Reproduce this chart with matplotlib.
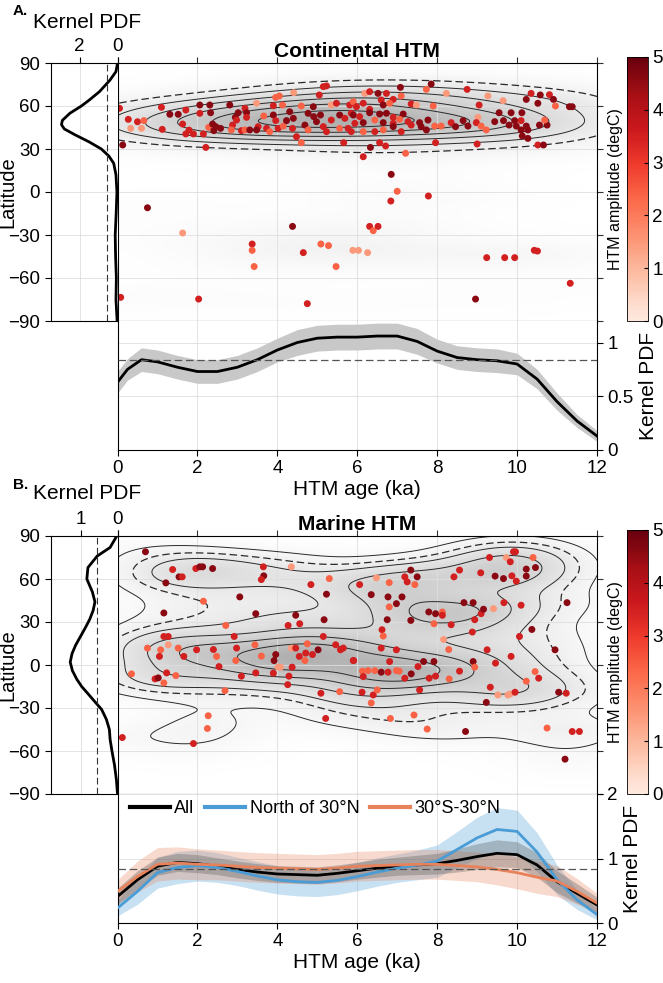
import numpy as np
import matplotlib.pyplot as plt
from matplotlib.colors import LinearSegmentedColormap, Normalize
import matplotlib as mpl

plt.rcParams['font.family'] = ['Liberation Sans', 'DejaVu Sans']
plt.rcParams['axes.linewidth'] = 0.8
plt.rcParams['xtick.direction'] = 'out'
plt.rcParams['ytick.direction'] = 'out'

# ---------------- data: panel A (continental) ----------------
age_a = [0.05, 0.27, 0.33, 0.5, 0.6, 0.66, 0.13, 1.1, 1.12, 1.31,
         1.52, 1.63, 1.71, 1.79, 1.71, 1.9, 2.06, 2.06, 2.15, 2.21,
         2.31, 2.33, 2.28, 2.38, 2.46, 2.41, 2.58, 2.81, 2.88, 2.85,
         2.95, 3.02, 2.98, 3.1, 3.19, 3.23, 3.23, 3.19, 3.31, 3.48,
         3.52, 3.48, 3.66, 3.73, 3.81, 3.9, 3.96, 4.05, 3.9, 3.96,
         4.02, 4.13, 4.15, 4.23, 4.31, 4.41, 4.4, 4.38, 4.48, 4.6,
         4.6, 4.69, 4.77, 4.77, 4.9, 4.91, 4.98, 5.05, 5.15, 5.23,
         5.08, 5.15, 5.23, 5.35, 5.35, 5.48, 5.56, 5.56, 5.69, 5.66,
         5.77, 5.81, 5.85,
         5.9, 6.19, 6.31, 6.52, 6.73, 7.08, 7.85, 7.73, 8.23, 8.75,
         9.27, 9.65, 10.35, 10.58, 10.81, 10.91, 10.96, 11.31, 11.38, 10.23,
         10.52, 6.15, 6.6, 6.9, 5.98, 6.31, 6.65, 6.81, 7.1, 7.35,
         7.48, 7.9, 9.05, 5.9, 6.06, 6.31, 6.56, 6.73, 6.9, 7.15,
         5.94, 6.15, 6.44, 6.65, 6.9, 7.06, 7.27, 7.56, 7.77, 5.85,
         6.15, 6.44, 6.65, 6.9, 7.1, 7.35, 7.6, 7.73, 7.94, 8.1,
         8.35, 8.46, 8.65, 8.77, 9.02, 8.98, 9.1, 9.23, 9.55, 9.85,
         10.12, 9.44, 9.66, 9.94, 10.1, 9.8, 9.98, 10.23, 10.1, 10.27,
         10.13, 10.27, 10.56, 10.75, 10.69, 10.52, 10.66, 6.56, 6.71, 7.21,
         7.96, 9.0, 6.33, 6.15, 6.85,
         0.75, 1.63, 0.08, 2.03, 3.37, 3.37, 3.42, 4.38, 4.65, 4.75,
         5.09, 5.28, 5.47, 5.89, 6.03, 6.26, 6.31, 6.4, 6.52, 6.84,
         7.0, 7.78, 8.96, 9.24, 9.69, 9.94, 10.43, 10.51, 11.33]
lat_a = [58.4, 50.7, 44.4, 49.0, 44.4, 49.8, 32.8, 59.1, 43.7, 54.2,
         54.2, 47.4, 57.2, 43.2, 40.5, 40.5, 60.7, 54.9, 40.5, 31.1,
         60.7, 55.3, 45.1, 47.4, 45.6, 42.8, 44.4, 60.7, 46.7, 43.3,
         52.1, 55.3, 50.2, 42.8, 58.4, 55.3, 52.1, 43.3, 43.3, 61.9,
         45.6, 43.3, 53.0, 44.4, 42.1, 60.2, 66.0, 67.0, 53.7, 49.8,
         44.4, 60.7, 46.0, 49.8, 56.0, 69.3, 51.4, 44.4, 38.6, 60.0,
         34.4, 46.7, 54.9, 43.3, 59.5, 52.6, 49.1, 67.7, 73.5, 74.0,
         53.7, 45.6, 42.1, 60.7, 50.2, 61.9, 53.7, 44.4, 51.4, 34.4,
         44.4, 60.7, 54.9,
         63.0, 68.8, 70.0, 68.8, 68.8, 73.0, 75.3, 71.6, 68.8, 71.6,
         67.0, 63.7, 68.8, 67.7, 67.9, 64.6, 60.0, 59.5, 59.5, 64.6,
         61.9, 61.9, 64.2, 64.6, 59.5, 57.7, 60.7, 61.9, 67.0, 61.4,
         60.7, 60.0, 60.7, 53.7, 52.6, 55.3, 54.4, 54.9, 52.1, 54.4,
         47.9, 48.4, 50.2, 48.4, 47.9, 50.7, 49.1, 48.4, 50.2, 42.1,
         42.1, 42.1, 43.3, 45.6, 42.1, 46.7, 45.6, 43.3, 46.0, 46.0,
         48.4, 45.6, 49.8, 46.0, 52.1, 48.4, 46.0, 43.3, 55.3, 55.3,
         55.3, 49.1, 49.8, 49.8, 49.8, 46.7, 46.0, 46.0, 43.3, 43.3,
         39.1, 37.4, 46.7, 46.7, 50.2, 32.8, 32.8, 34.4, 32.1, 27.0,
         34.4, 33.5, 31.1, 24.6, 12.3,
         -11.0, -28.6, -73.5, -74.7, -36.3, -40.7, -52.0, -24.0, -42.3, -77.9,
         -36.3, -37.4, -52.0, -40.7, -40.7, -42.3, -24.0, -27.0, -24.0, -6.3,
         0.5, -2.8, -74.7, -45.8, -45.8, -45.8, -40.7, -41.2, -63.7]
amp_a = [3.5, 3.5, 1.5, 3.5, 1.5, 2.4, 4.6, 3.5, 3.5, 4.6,
         4.6, 3.5, 3.5, 3.5, 3.5, 3.5, 4.6, 3.5, 3.5, 3.5,
         4.6, 4.6, 2.4, 4.6, 4.6, 4.6, 4.6, 4.6, 3.5, 2.4,
         4.6, 4.6, 3.5, 3.5, 3.5, 4.6, 3.5, 2.4, 4.6, 1.5,
         3.5, 4.6, 2.4, 3.5, 2.4, 3.5, 2.4, 2.4, 4.6, 3.5,
         3.5, 2.4, 2.4, 4.6, 4.6, 1.5, 4.6, 3.5, 3.5, 2.4,
         2.4, 4.6, 4.6, 2.4, 4.6, 4.6, 4.6, 3.5, 3.5, 3.5,
         4.6, 3.5, 3.5, 1.5, 3.5, 3.5, 4.6, 2.4, 3.5, 3.5,
         3.5, 3.5, 3.5,
         2.4, 1.5, 3.5, 4.6, 3.5, 4.6, 4.6, 2.4, 1.5, 3.5,
         1.5, 1.5, 3.5, 4.6, 3.5, 4.6, 2.4, 4.6, 4.6, 4.6,
         4.6, 3.5, 3.5, 3.5, 3.5, 3.5, 4.6, 2.4, 2.4, 3.5,
         1.5, 2.4, 3.5, 4.6, 3.5, 4.6, 4.6, 4.6, 3.5, 4.6,
         3.5, 4.6, 2.4, 4.6, 3.5, 2.4, 3.5, 4.6, 4.6, 3.5,
         2.4, 3.5, 2.4, 4.6, 3.5, 3.5, 4.6, 4.6, 2.4, 2.4,
         3.5, 4.6, 4.6, 4.6, 1.5, 3.5, 2.4, 2.4, 4.6, 4.6,
         4.6, 4.6, 4.6, 4.6, 3.5, 4.6, 4.6, 4.6, 4.6, 4.6,
         4.6, 4.6, 4.6, 4.6, 2.4, 3.5, 4.6, 3.5, 3.5, 2.4,
         3.5, 3.5, 4.6, 3.5, 4.6,
         4.6, 1.5, 3.5, 3.5, 3.5, 2.4, 2.4, 4.6, 3.5, 3.5,
         2.4, 2.4, 2.4, 1.5, 1.5, 1.5, 3.5, 2.4, 3.5, 3.5,
         2.4, 3.5, 4.6, 3.5, 3.5, 3.5, 3.5, 3.5, 3.5]

# latitude PDF (side panel A), %/deg
side_lat_a = [90, 84, 78, 70, 64, 60, 55, 50, 47, 44, 40, 35, 30, 25, 20, 12,
              0, -15, -30, -45, -60, -75, -90]
side_pdf_a = [0.0, 0.08, 0.4, 0.95, 1.5, 1.9, 2.5, 2.9, 2.95, 2.8, 2.25, 1.5,
              0.85, 0.45, 0.2, 0.08, 0.03, 0.07, 0.12, 0.1, 0.06, 0.08, 0.02]

# age PDF (bottom panel A), %/ka
pdf_age_a = [0, 0.25, 0.6, 1.0, 1.5, 2.0, 2.5, 3.0, 3.5, 4.0, 4.5, 5.0, 5.5,
             6.0, 6.5, 7.0, 7.5, 8.0, 8.5, 9.0, 9.5, 10.0, 10.5, 11.0, 11.5, 12.0]
pdf_a = [0.63, 0.75, 0.84, 0.82, 0.77, 0.73, 0.73, 0.77, 0.84, 0.93, 1.0, 1.04,
         1.05, 1.05, 1.06, 1.06, 1.01, 0.92, 0.86, 0.84, 0.83, 0.80, 0.66, 0.45,
         0.27, 0.13]
pdf_a_err = [0.10, 0.10, 0.11, 0.11, 0.11, 0.11, 0.11, 0.11, 0.11, 0.11, 0.12,
             0.12, 0.12, 0.12, 0.12, 0.12, 0.12, 0.11, 0.11, 0.11, 0.11, 0.1,
             0.09, 0.08, 0.06, 0.05]

# ---------------- data: panel B (marine) ----------------
age_b = [0.70, 1.38, 1.54, 1.62, 1.21, 1.96, 2.06, 2.13, 2.38, 2.15,
         3.06, 3.65, 3.66, 3.6, 4.35, 4.84, 5.3, 5.23, 1.16, 2.71,
         3.46, 2.92, 4.46, 4.56, 4.27, 5.17, 5.15, 1.16, 1.27, 0.75,
         1.08, 1.27, 1.52, 1.05, 1.66, 1.98, 2.4, 2.48, 2.98, 2.96,
         2.54, 3.44, 3.6, 3.96, 3.92, 4.02, 4.08, 4.37, 4.35, 4.46,
         4.55, 4.69, 4.71, 4.75, 4.88, 5.02, 5.46, 5.58, 5.65, 5.9,
         0.35, 0.94, 1.02, 1.16, 1.23, 1.46, 3.1, 3.46, 3.9, 4.29,
         4.26, 2.69, 5.09, 5.56, 5.21, 2.27, 2.25, 1.9, 0.12,
         6.06, 6.48, 6.35, 6.8, 6.77, 6.98, 7.12, 6.8, 7.19, 7.25,
         7.34, 7.5, 7.44, 6.75, 7.34, 6.62, 6.65, 6.6, 6.98, 5.91,
         6.81, 6.13, 6.27, 6.44, 6.6, 6.77, 6.98, 7.05, 7.19, 7.35,
         7.52, 7.66, 7.92, 7.8, 7.96, 8.3, 8.56, 6.15, 6.12, 6.4,
         6.5, 6.35, 7.56, 8.29, 8.16, 7.92, 8.35, 7.79, 7.96, 8.13,
         8.13, 8.42, 8.56, 8.67, 8.9, 9.1, 9.16, 8.94, 8.88, 8.9,
         8.94, 9.25, 9.46, 9.85, 9.33, 9.52, 9.77, 9.83, 9.95, 9.23,
         9.09, 9.31, 9.73, 9.91, 9.96, 9.83, 10.4, 9.45, 9.66, 9.87,
         9.98, 10.23, 10.23, 10.46, 9.67, 10.1, 9.41, 10.37, 10.06, 10.95,
         11.25, 10.45, 10.54, 10.23, 11.04, 11.23, 6.83, 7.42, 7.75, 8.71,
         10.75, 11.38, 11.56, 11.2]
lat_b = [79.0, 66.6, 61.5, 61.5, 57.3, 67.3, 68.5, 68.5, 67.3, 44.5,
         47.5, 68.5, 62.2, 59.6, 68.5, 56.1, 60.3, 49.4, 36.3, 27.6,
         35.8, 19.9, 34.7, 28.8, 27.6, 31.6, 19.9, 19.9, 19.9, 11.8,
         10.6, 14.1, 11.8, 6.0, 6.0, 10.6, 10.8, 6.0, 11.8, 3.1,
         -1.1, 14.1, 6.2, 7.3, 3.1, -1.5, -1.5, -1.5, 11.8, 11.8,
         6.0, 3.1, 8.3, 14.8, 7.3, 10.6, 14.1, 10.6, 11.8, 3.1,
         -6.2, -9.7, -9.0, -12.5, -5.5, -7.4, -7.8, -5.5, -5.7, -7.8,
         -13.7, -17.9, -19.7, -18.6, -37.3, -35.4, -44.3, -54.8, -50.6,
         56.1, 60.8, 49.1, 57.5, 47.5, 42.8, 47.5, 40.5, 61.5, 58.0,
         66.2, 61.5, 56.1, 31.6, 31.1, 24.6, 20.2, 11.8, 10.6, 3.1,
         2.4, -4.3, -3.9, -3.9, -5.0, -5.0, -3.9, -4.3, -9.2, -6.2,
         -1.1, 2.4, 2.4, -9.2, -7.8, -9.7, -4.3, -8.1, -19.0, -20.9,
         -17.4, -26.5, -17.4, 10.8, 17.8, 28.8, 28.1, 37.0, 35.8, 37.0,
         34.7, 61.5, 66.2, 43.5, 43.5, 35.8, 38.9, 31.6, 23.0, 2.4,
         -1.5, 10.6, 1.3, 6.0, -15.5, -20.9, -20.9, -20.2, -19.0, -26.1,
         64.3, 75.0, 75.0, 79.0, 79.0, 72.0, 75.0, 62.0, 60.3, 62.2,
         58.5, 66.9, 62.0, 68.0, 43.5, 41.7, 39.3, 24.8, 19.9, 10.6,
         43.5, -4.6, -9.2, -11.3, -19.0, -19.7, -37.3, -34.9, -44.7, -46.4,
         -44.0, -46.4, -46.4, -65.7]
amp_b = [4.6, 3.5, 4.6, 3.5, 4.6, 3.5, 4.6, 4.6, 4.6, 2.4,
         4.6, 3.5, 4.6, 3.5, 1.5, 3.5, 2.4, 4.6, 4.6, 2.4,
         4.6, 3.5, 4.6, 3.5, 3.5, 4.6, 3.5, 3.5, 3.5, 2.4,
         2.4, 1.5, 2.4, 3.5, 3.5, 3.5, 3.5, 2.4, 3.5, 2.4,
         3.5, 2.4, 2.4, 4.6, 4.6, 1.5, 1.5, 3.5, 1.5, 3.5,
         3.5, 2.4, 3.5, 2.4, 3.5, 4.6, 3.5, 3.5, 3.5, 3.5,
         2.4, 3.5, 4.6, 2.4, 3.5, 2.4, 3.5, 3.5, 3.5, 3.5,
         3.5, 2.4, 3.5, 2.4, 3.5, 2.4, 2.4, 3.5, 3.5,
         3.5, 1.5, 4.6, 2.4, 4.6, 4.6, 4.6, 2.4, 3.5, 3.5,
         4.6, 4.6, 2.4, 4.6, 4.6, 3.5, 2.4, 3.5, 3.5, 3.5,
         3.5, 2.4, 2.4, 2.4, 4.6, 3.5, 2.4, 2.4, 3.5, 4.6,
         3.5, 4.6, 4.6, 3.5, 3.5, 2.4, 3.5, 3.5, 3.5, 3.5,
         2.4, 2.4, 3.5, 2.4, 1.5, 2.4, 3.5, 4.6, 4.6, 2.4,
         3.5, 3.5, 3.5, 4.6, 4.6, 3.5, 4.6, 3.5, 3.5, 4.6,
         2.4, 3.5, 3.5, 3.5, 3.5, 1.5, 1.5, 1.5, 3.5, 4.6,
         3.5, 3.5, 1.5, 3.5, 3.5, 3.5, 2.4, 4.6, 4.6, 3.5,
         3.5, 4.6, 4.6, 4.6, 3.5, 3.5, 1.5, 4.6, 3.5, 4.6,
         4.6, 2.4, 3.5, 2.4, 4.6, 3.5, 2.4, 2.4, 2.4, 4.6,
         2.4, 3.5, 3.5, 4.6]

side_lat_b = [90, 82, 76, 68, 60, 51, 44, 38, 32, 26, 20, 14, 8, 2, -4, -10,
              -15, -20, -26, -31, -38, -45, -52, -60, -70, -80, -90]
side_pdf_b = [0.02, 0.2, 0.55, 0.8, 0.83, 0.68, 0.61, 0.66, 0.75, 0.87, 1.0,
              1.13, 1.23, 1.28, 1.22, 1.1, 0.97, 0.8, 0.6, 0.43, 0.3, 0.22,
              0.2, 0.15, 0.08, 0.03, 0.0]

pdf_age_b = [0, 0.5, 1, 1.5, 2, 2.5, 3, 3.5, 4, 4.5, 5, 5.5, 6, 6.5, 7, 7.5,
             8, 8.5, 9, 9.5, 10, 10.5, 11, 11.5, 12]
pdf_all = [0.41, 0.67, 0.88, 0.94, 0.92, 0.88, 0.83, 0.79, 0.76, 0.75, 0.74,
           0.77, 0.81, 0.85, 0.88, 0.9, 0.92, 0.97, 1.03, 1.08, 1.06, 0.9,
           0.64, 0.46, 0.28]
pdf_all_err = [0.13, 0.14, 0.14, 0.14, 0.14, 0.13, 0.13, 0.13, 0.13, 0.13, 0.13,
               0.13, 0.13, 0.14, 0.14, 0.15, 0.16, 0.18, 0.2, 0.21, 0.2, 0.19,
               0.17, 0.15, 0.12]
pdf_north = [0.23, 0.49, 0.78, 0.86, 0.89, 0.86, 0.8, 0.73, 0.67, 0.64, 0.63,
             0.66, 0.72, 0.79, 0.85, 0.9, 0.96, 1.14, 1.32, 1.45, 1.42, 1.1,
             0.67, 0.36, 0.13]
pdf_north_err = [0.12, 0.2, 0.24, 0.25, 0.24, 0.23, 0.22, 0.22, 0.22, 0.22, 0.22,
                 0.22, 0.22, 0.22, 0.22, 0.23, 0.25, 0.28, 0.32, 0.34, 0.33, 0.3,
                 0.23, 0.15, 0.08]
pdf_trop = [0.49, 0.72, 0.91, 0.93, 0.91, 0.9, 0.88, 0.86, 0.85, 0.84, 0.83,
            0.85, 0.88, 0.89, 0.9, 0.91, 0.91, 0.89, 0.87, 0.83, 0.78, 0.71,
            0.65, 0.49, 0.31]
pdf_trop_err = [0.18, 0.24, 0.26, 0.25, 0.24, 0.23, 0.23, 0.23, 0.23, 0.23, 0.23,
                0.23, 0.23, 0.23, 0.23, 0.23, 0.23, 0.23, 0.23, 0.24, 0.25, 0.25,
                0.24, 0.2, 0.15]

amp_ticks = [0, 1, 2, 3, 4, 5]
lat_ticks = [-90, -60, -30, 0, 30, 60, 90]
age_ticks = [0, 2, 4, 6, 8, 10, 12]

# ---------------- layout helpers ----------------
W, H = 663, 983
fig = plt.figure(figsize=(W / 100, H / 100), dpi=100)


def box(l, t, r, b):
    return [l / W, 1 - b / H, (r - l) / W, (b - t) / H]


reds = LinearSegmentedColormap.from_list(
    'reds_t', plt.cm.Reds(np.linspace(0.08, 1.0, 256)))
greys = LinearSegmentedColormap.from_list('bg', ['#ffffff', '#b0b0b0'])
norm = Normalize(0, 5)
grid_c = '#dedede'
TICK = 13.5
LAB = 15


def kde2d(ages, lats, hx, hy):
    gx = np.linspace(0, 12, 241)
    gy = np.linspace(-90, 90, 361)
    X, Y = np.meshgrid(gx, gy)
    D = np.zeros_like(X)
    for a, l in zip(ages, lats):
        D += np.exp(-0.5 * (((X - a) / hx) ** 2 + ((Y - l) / hy) ** 2))
    return X, Y, D / D.max()


def panel(off, title, ages, lats, amps, side_lat, side_pdf, side_max,
          side_ticks, hx, hy, solid_lv, dash_lv, pdf_top, pdf_ticks):
    # main scatter axes
    ax = fig.add_axes(box(117.5, 63 + off, 597, 321 + off))
    X, Y, D = kde2d(ages, lats, hx, hy)
    ax.imshow(D, origin='lower', extent=[0, 12, -90, 90], aspect='auto',
              cmap=greys, vmin=0, vmax=1, zorder=0, interpolation='bilinear')
    ax.contour(X, Y, D, levels=solid_lv, colors='#2a2a2a', linewidths=0.7,
               zorder=2)
    ax.contour(X, Y, D, levels=[dash_lv], colors='#2a2a2a', linewidths=0.9,
               linestyles=[(0, (6, 3))], zorder=2)
    ax.scatter(ages, lats, c=amps, cmap=reds, norm=norm, s=25,
               edgecolors='none', zorder=3)
    ax.set_xlim(0, 12)
    ax.set_ylim(-90, 90)
    ax.set_xticks(age_ticks)
    ax.set_yticks(lat_ticks)
    ax.tick_params(axis='x', top=True, bottom=False, labeltop=False,
                   labelbottom=False, length=4, color='#333333')
    ax.tick_params(axis='y', right=True, left=False, labelleft=False,
                   labelright=False, length=4, color='#333333')
    ax.grid(True, color=grid_c, lw=0.6)
    for g in ax.get_xgridlines() + ax.get_ygridlines():
        g.set_zorder(1)
    for sp in ax.spines.values():
        sp.set_zorder(10)
    ax.set_title(title, fontsize=15, fontweight='bold', pad=4)

    # side latitude PDF
    sx = fig.add_axes(box(51, 63 + off, 117.5, 321 + off))
    sx.plot(side_pdf, side_lat, color='black', lw=2)
    sx.axvline(100 / 180, color='#333333', lw=0.8, ls=(0, (6, 3)))
    sx.set_xlim(side_max, 0)
    sx.set_ylim(-90, 90)
    sx.set_xticks(side_ticks)
    sx.set_yticks(lat_ticks)
    sx.grid(True, color=grid_c, lw=0.6)
    sx.xaxis.tick_top()
    sx.tick_params(axis='x', labelsize=TICK, length=4, pad=2)
    sx.tick_params(axis='y', labelsize=TICK, length=4, pad=4)
    sx.spines['right'].set_visible(False)
    sx.set_ylabel('Latitude', fontsize=14.5)
    sx.yaxis.set_label_coords(-0.50, 0.5)

    # bottom age PDF
    bx = fig.add_axes(box(117.5, 321 + off, 597, 450 + off))
    bx.set_xlim(0, 12)
    bx.set_ylim(0, pdf_top)
    bx.set_xticks(age_ticks)
    bx.set_yticks(pdf_ticks)
    bx.yaxis.tick_right()
    bx.yaxis.set_label_position('right')
    bx.spines['top'].set_visible(False)
    bx.grid(True, color=grid_c, lw=0.6)
    bx.tick_params(labelsize=TICK, length=4)
    bx.set_ylabel('Kernel PDF', fontsize=LAB, labelpad=4)
    bx.set_xlabel('HTM age (ka)', fontsize=LAB, labelpad=2)
    bx.axhline(10 / 12, color='#555555', lw=0.9, ls=(0, (6, 3)), zorder=5)

    # colorbar
    cax = fig.add_axes(box(627, 57 + off, 648, 321 + off))
    cb = fig.colorbar(mpl.cm.ScalarMappable(norm=norm, cmap=reds), cax=cax)
    cb.set_ticks(amp_ticks)
    cb.ax.tick_params(labelsize=TICK, direction='in', length=3, pad=3)
    cb.outline.set_linewidth(0.6)
    cb.ax.yaxis.set_label_position('left')
    cb.set_label('HTM amplitude (degC)', fontsize=11.5, labelpad=3)

    return ax, sx, bx


# ---------------- panel A ----------------
axA, sxA, bxA = panel(0, 'Continental HTM', age_a, lat_a, amp_a,
                      side_lat_a, side_pdf_a, 3.5, [2, 0], 1.9, 7.5,
                      [0.3, 0.45, 0.6, 0.75, 0.9], 0.17, 1.2, [0, 0.5, 1])
lo = np.array(pdf_a) - np.array(pdf_a_err)
hi = np.array(pdf_a) + np.array(pdf_a_err)
bxA.fill_between(pdf_age_a, lo, hi, color='#c8c8c8', lw=0, zorder=2)
bxA.plot(pdf_age_a, pdf_a, color='black', lw=2, zorder=3)
bxA.set_yticklabels(['0', '0.5', '1'])

# ---------------- panel B ----------------
axB, sxB, bxB = panel(473, 'Marine HTM', age_b, lat_b, amp_b,
                      side_lat_b, side_pdf_b, 1.8, [1, 0], 1.1, 9,
                      [0.1, 0.3, 0.47, 0.64, 0.82], 0.2, 2.0, [0, 1, 2])
c_all, c_north, c_trop = 'black', '#4a9cd6', '#e8825a'
for vals, errs, fc in [(pdf_north, pdf_north_err, c_north),
                       (pdf_trop, pdf_trop_err, c_trop),
                       (pdf_all, pdf_all_err, '#4d4d4d')]:
    v = np.array(vals)
    e = np.array(errs)
    bxB.fill_between(pdf_age_b, v - e, v + e, color=fc, alpha=0.3, lw=0,
                     zorder=2)
for vals, col, lab in [(pdf_all, c_all, 'All'),
                       (pdf_north, c_north, 'North of 30°N'),
                       (pdf_trop, c_trop, '30°S-30°N')]:
    bxB.plot(pdf_age_b, vals, color=col, lw=2, zorder=3, label=lab)
bxB.legend(loc='upper left', ncol=3, frameon=False, fontsize=13,
           handlelength=2.2, handletextpad=0.25, columnspacing=0.6,
           bbox_to_anchor=(0.0, 1.05), borderaxespad=0.3)
for ln in bxB.get_legend().get_lines():
    ln.set_linewidth(3)

# panel letters and side-axis titles
fig.text(13 / W, 1 - 11 / H, 'A.', fontsize=11, fontweight='bold',
         va='center', ha='left')
fig.text(33 / W, 1 - 22 / H, 'Kernel PDF', fontsize=LAB, va='center',
         ha='left')
fig.text(13 / W, 1 - 485 / H, 'B.', fontsize=11, fontweight='bold',
         va='center', ha='left')
fig.text(33 / W, 1 - 494 / H, 'Kernel PDF', fontsize=LAB, va='center',
         ha='left')

fig.savefig('out.png', dpi=100)
